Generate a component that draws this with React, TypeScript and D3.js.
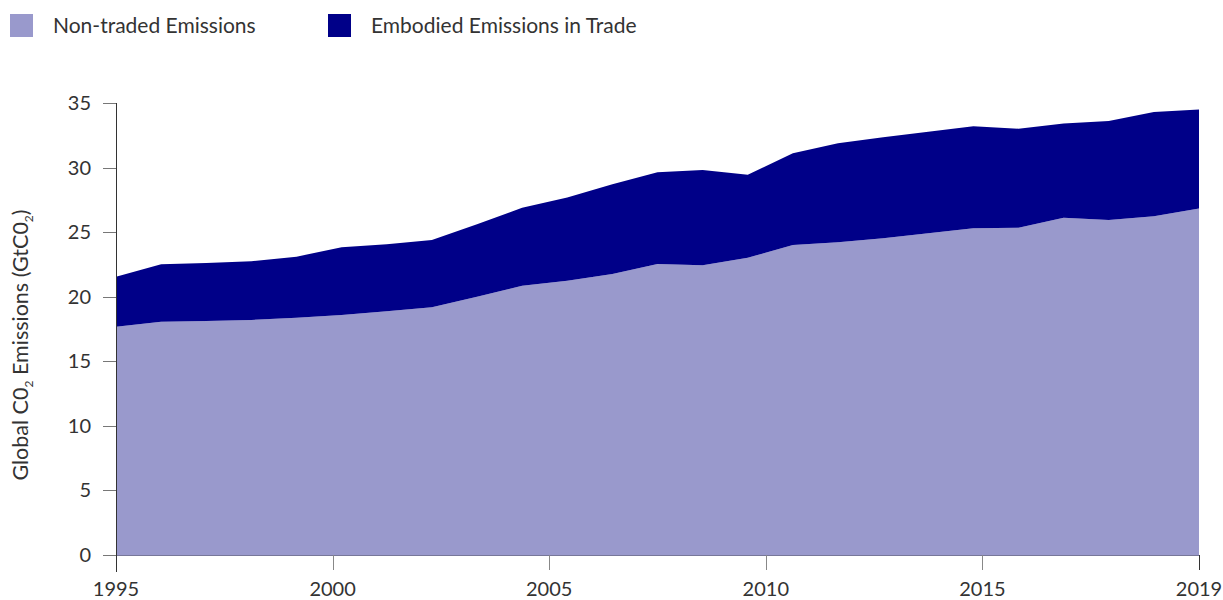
import React, { useEffect, useRef } from 'react';
import * as d3 from 'd3';

const years = [
  1995, 1996, 1997, 1998, 1999, 2000, 2001, 2002, 2003, 2004, 2005, 2006, 2007,
  2008, 2009, 2010, 2011, 2012, 2013, 2014, 2015, 2016, 2017, 2018, 2019,
];

const nonTraded = [
  17.68, 18.07, 18.12, 18.2, 18.38, 18.58, 18.87, 19.18, 20.0, 20.85, 21.24, 21.76,
  22.53, 22.43, 23.02, 24.0, 24.21, 24.52, 24.91, 25.31, 25.34, 26.11, 25.94, 26.23,
  26.83,
];

const embodied = [
  3.87, 4.44, 4.49, 4.54, 4.72, 5.25, 5.19, 5.21, 5.61, 6.04, 6.44, 6.94, 7.1, 7.38,
  6.43, 7.11, 7.67, 7.82, 7.87, 7.89, 7.67, 7.3, 7.67, 8.07, 7.67,
];

const xTickLabels = ['1995', '2000', '2005', '2010', '2015', '2019'];
const yTicks = [0, 5, 10, 15, 20, 25, 30, 35];

const seriesKeys = ['nonTraded', 'embodied'];
const seriesNames = ['Non-traded Emissions', 'Embodied Emissions in Trade'];
const seriesColors = ['#9999cc', '#000088'];

const W = 1223;
const H = 600;
const FONT = 'Lato, "Open Sans", sans-serif';

export default function App() {
  const svgRef = useRef<SVGSVGElement>(null);

  useEffect(() => {
    if (!svgRef.current) return;
    const svg = d3.select(svgRef.current);
    svg.html('');

    const margin = { left: 116, right: 24, top: 103, bottom: 45 };
    const x = d3.scaleLinear().domain([0, years.length - 1]).range([margin.left, W - margin.right]);
    const xTick = d3.scalePoint<string>().domain(xTickLabels).range([margin.left, W - margin.right]);
    const y = d3.scaleLinear().domain([0, 35]).range([H - margin.bottom, margin.top]);

    const rows = years.map((yr, i) => ({ year: yr, nonTraded: nonTraded[i], embodied: embodied[i] }));
    const stacked = d3.stack<any>().keys(seriesKeys)(rows);

    const area = d3.area<any>()
      .x((_, i) => x(i))
      .y0(d => y(d[0]))
      .y1(d => y(d[1]));

    svg.append('g')
      .selectAll('path')
      .data(stacked)
      .enter()
      .append('path')
      .attr('d', d => area(d as any)!)
      .attr('fill', (_, i) => seriesColors[i]);

    // baseline
    svg.append('line')
      .attr('x1', margin.left).attr('x2', W - margin.right)
      .attr('y1', y(0) + 0.5).attr('y2', y(0) + 0.5)
      .attr('stroke', '#777799').attr('stroke-width', 1);

    // y axis
    const yAxis = svg.append('g').attr('font-family', FONT);
    yAxis.append('line')
      .attr('x1', margin.left + 0.5).attr('x2', margin.left + 0.5)
      .attr('y1', y(35)).attr('y2', y(0) + 17)
      .attr('stroke', '#333').attr('stroke-width', 1);
    yAxis.selectAll('line.tick')
      .data(yTicks)
      .enter()
      .append('line')
      .attr('class', 'tick')
      .attr('x1', margin.left - 13).attr('x2', margin.left)
      .attr('y1', d => Math.round(y(d)) + 0.5).attr('y2', d => Math.round(y(d)) + 0.5)
      .attr('stroke', '#777').attr('stroke-width', 1);
    yAxis.selectAll('text')
      .data(yTicks)
      .enter()
      .append('text')
      .attr('x', margin.left - 25)
      .attr('y', d => y(d))
      .attr('dy', '0.35em')
      .attr('text-anchor', 'end')
      .attr('font-size', 20)
      .attr('fill', '#333')
      .text(d => d);

    // x axis
    const xAxis = svg.append('g').attr('font-family', FONT);
    xAxis.selectAll('line')
      .data(xTickLabels)
      .enter()
      .append('line')
      .attr('x1', d => Math.round(xTick(d)!) + 0.5).attr('x2', d => Math.round(xTick(d)!) + 0.5)
      .attr('y1', y(0)).attr('y2', y(0) + 15)
      .attr('stroke', (_, i) => (i === 0 || i === xTickLabels.length - 1 ? '#333' : '#888'))
      .attr('stroke-width', 1);
    xAxis.selectAll('text')
      .data(xTickLabels)
      .enter()
      .append('text')
      .attr('x', d => xTick(d)!)
      .attr('y', y(0) + 34)
      .attr('dy', '0.35em')
      .attr('text-anchor', 'middle')
      .attr('font-size', 20)
      .attr('fill', '#333')
      .text(d => d);

    // y label
    const yLabel = svg.append('text')
      .attr('transform', `translate(28, ${(y(0) + y(35)) / 2 + 16}) rotate(-90)`)
      .attr('text-anchor', 'middle')
      .attr('font-family', FONT)
      .attr('font-size', 21.5)
      .attr('fill', '#333');
    yLabel.append('tspan').text('Global C0');
    yLabel.append('tspan').attr('font-size', 12).attr('dy', 5).text('2');
    yLabel.append('tspan').attr('dy', -5).text(' Emissions (GtC0');
    yLabel.append('tspan').attr('font-size', 12).attr('dy', 5).text('2');
    yLabel.append('tspan').attr('dy', -5).text(')');

    // legend
    const legendX = [10, 328];
    const legend = svg.append('g').attr('font-family', FONT);
    seriesNames.forEach((name, i) => {
      legend.append('rect')
        .attr('x', legendX[i]).attr('y', 14)
        .attr('width', 23).attr('height', 23)
        .attr('fill', seriesColors[i]);
      legend.append('text')
        .attr('x', legendX[i] + 43)
        .attr('y', 26)
        .attr('dy', '0.35em')
        .attr('font-size', 21)
        .attr('fill', '#333')
        .text(name);
    });
  }, []);

  return (
    <svg
      ref={svgRef}
      width={W}
      height={H}
      style={{ position: 'absolute', left: 0, top: 0, background: '#fff' }}
    />
  );
}
